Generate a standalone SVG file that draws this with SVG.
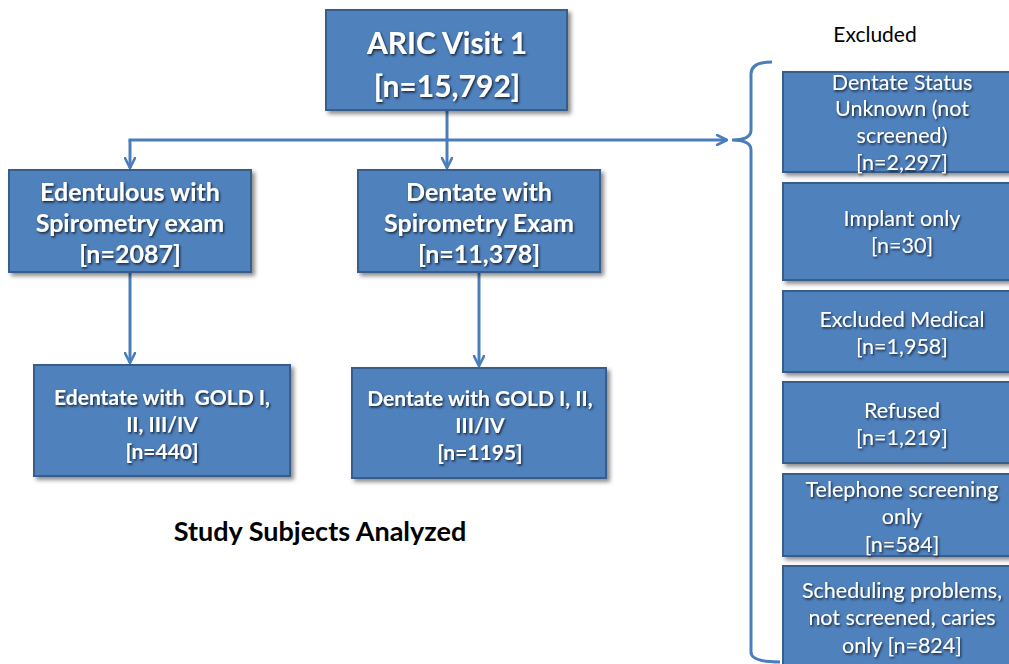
<svg xmlns="http://www.w3.org/2000/svg" width="1009" height="664" viewBox="0 0 1009 664">
<defs>
<filter id="boxShadow" x="-10%" y="-10%" width="130%" height="130%">
<feDropShadow dx="3" dy="3" stdDeviation="2" flood-color="#000" flood-opacity="0.45"/>
</filter>
<filter id="txtShadow" x="-10%" y="-20%" width="130%" height="150%">
<feDropShadow dx="1.2" dy="1.5" stdDeviation="0.8" flood-color="#000" flood-opacity="0.75"/>
</filter>
<marker id="arrow" viewBox="0 0 12 12" refX="11" refY="6" markerWidth="12" markerHeight="12" markerUnits="userSpaceOnUse" orient="auto">
<path d="M1,1 L11,6 L1,11" fill="none" stroke="#4A7EBB" stroke-width="2.6" stroke-linecap="round" stroke-linejoin="round"/>
</marker>
</defs>
<style>
.box{fill:#4F81BD;stroke:#385D8A;stroke-width:2;filter:url(#boxShadow)}
.t{font-family:Lato,"Liberation Sans",sans-serif;fill:#fff;text-anchor:middle;filter:url(#txtShadow)}
.b{font-weight:bold}
.ex{font-size:21.5px}
.conn{fill:none;stroke:#4A7EBB;stroke-width:3}
.lbl{font-family:Lato,"Liberation Sans",sans-serif;fill:#000;text-anchor:middle}
</style>
<rect width="1009" height="664" fill="#fff"/>

<g id="connectors">
<line class="conn" x1="447" y1="111" x2="447" y2="168" marker-end="url(#arrow)"/>
<line class="conn" x1="128.5" y1="140" x2="727" y2="140" marker-end="url(#arrow)"/>
<line class="conn" x1="130" y1="140" x2="130" y2="168" marker-end="url(#arrow)"/>
<line class="conn" x1="130" y1="273" x2="130" y2="363" marker-end="url(#arrow)"/>
<line class="conn" x1="479" y1="273" x2="479" y2="366" marker-end="url(#arrow)"/>
<path class="conn" d="M772,62 Q751,62 751,74 L751,130 Q751,140 732,140 Q751,140 751,150 L751,652 Q751,662 780,662"/>
</g>

<g id="aric">
<rect class="box" x="326" y="10" width="241" height="100"/>
<text class="t b" x="447" y="54" font-size="30">ARIC Visit 1</text>
<text class="t b" x="447" y="97" font-size="30">[n=15,792]</text>
</g>

<g id="edentulous">
<rect class="box" x="9" y="170" width="242" height="102"/>
<text class="t b" x="130" y="201" font-size="25">Edentulous with</text>
<text class="t b" x="130" y="232" font-size="25">Spirometry exam</text>
<text class="t b" x="130" y="263" font-size="25">[n=2087]</text>
</g>

<g id="dentate">
<rect class="box" x="358" y="170" width="242" height="102"/>
<text class="t b" x="479" y="201" font-size="25">Dentate with</text>
<text class="t b" x="479" y="232" font-size="25">Spirometry Exam</text>
<text class="t b" x="479" y="263" font-size="25">[n=11,378]</text>
</g>

<g id="edentate-gold">
<rect class="box" x="34" y="365" width="256" height="111"/>
<text class="t b" x="162" y="405" font-size="21" xml:space="preserve">Edentate with  GOLD I,</text>
<text class="t b" x="162" y="432" font-size="21">II, III/IV</text>
<text class="t b" x="162" y="459" font-size="21">[n=440]</text>
</g>

<g id="dentate-gold">
<rect class="box" x="352" y="368" width="254" height="110"/>
<text class="t b" x="480" y="406" font-size="21">Dentate with GOLD I, II,</text>
<text class="t b" x="480" y="433" font-size="21">III/IV</text>
<text class="t b" x="480" y="460" font-size="21">[n=1195]</text>
</g>

<g id="study-label">
<text class="lbl b" x="320" y="541" font-size="27">Study Subjects Analyzed</text>
</g>

<g id="excluded-label">
<text class="lbl" x="875" y="42" font-size="21">Excluded</text>
</g>

<g id="ex-unknown">
<rect class="box" x="783" y="72" width="240" height="100"/>
<text class="t ex" x="902" y="90">Dentate Status</text>
<text class="t ex" x="902" y="116">Unknown (not</text>
<text class="t ex" x="902" y="143">screened)</text>
<text class="t ex" x="902" y="170">[n=2,297]</text>
</g>

<g id="ex-implant">
<rect class="box" x="783" y="183" width="240" height="97"/>
<text class="t ex" x="902" y="226">Implant only</text>
<text class="t ex" x="902" y="253">[n=30]</text>
</g>

<g id="ex-medical">
<rect class="box" x="783" y="291" width="240" height="81"/>
<text class="t ex" x="902" y="327">Excluded Medical</text>
<text class="t ex" x="902" y="354">[n=1,958]</text>
</g>

<g id="ex-refused">
<rect class="box" x="783" y="382" width="240" height="81"/>
<text class="t ex" x="902" y="418">Refused</text>
<text class="t ex" x="902" y="445">[n=1,219]</text>
</g>

<g id="ex-telephone">
<rect class="box" x="783" y="474" width="240" height="82"/>
<text class="t ex" x="902" y="497">Telephone screening</text>
<text class="t ex" x="902" y="524">only</text>
<text class="t ex" x="902" y="552">[n=584]</text>
</g>

<g id="ex-scheduling">
<rect class="box" x="783" y="566" width="240" height="110"/>
<text class="t ex" x="902" y="598">Scheduling problems,</text>
<text class="t ex" x="902" y="625">not screened, caries</text>
<text class="t ex" x="902" y="653">only [n=824]</text>
</g>
</svg>
